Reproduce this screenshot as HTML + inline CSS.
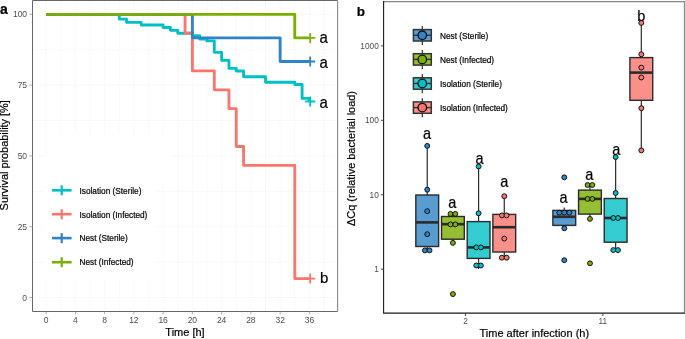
<!DOCTYPE html><html><head><meta charset="utf-8"><style>html,body{margin:0;padding:0;background:#fff;}svg{display:block;font-family:"Liberation Sans",sans-serif;will-change:transform;}text{stroke-width:0.2px;}</style></head><body>
<svg width="685" height="339" viewBox="0 0 685 339">
<rect x="0" y="0" width="685" height="339" fill="#fff"/>
<path d="M46.10 0.5V311.5M60.73 0.5V311.5M75.36 0.5V311.5M89.98 0.5V311.5M104.61 0.5V311.5M119.24 0.5V311.5M133.87 0.5V311.5M148.50 0.5V311.5M163.12 0.5V311.5M177.75 0.5V311.5M192.38 0.5V311.5M207.01 0.5V311.5M221.64 0.5V311.5M236.26 0.5V311.5M250.89 0.5V311.5M265.52 0.5V311.5M280.15 0.5V311.5M294.78 0.5V311.5M309.40 0.5V311.5M324.03 0.5V311.5M32.5 297.50H337.6M32.5 262.10H337.6M32.5 226.70H337.6M32.5 191.30H337.6M32.5 155.90H337.6M32.5 120.50H337.6M32.5 85.10H337.6M32.5 49.70H337.6M32.5 14.30H337.6" stroke="#f6f6f6" stroke-width="0.8" fill="none"/>
<rect x="46.6" y="134.4" width="123.4" height="49.8" fill="#fff"/>
<rect x="44" y="156.6" width="110.5" height="122.9" fill="#fff"/>
<path d="M46.10 14.30H119.24V19.10H126.55V22.40H141.18V25.00H163.12V27.50H170.44V30.30H177.75V33.20H192.38V35.60H199.69V39.00H207.01V40.90H214.32V52.30H221.64V60.40H228.95V68.40H236.26V71.00H243.58V76.70H265.52V82.20H294.78V84.50H302.09V98.40H309.40V101.50" stroke="#00BFC4" stroke-width="2.85" fill="none" stroke-linejoin="round" stroke-linecap="butt"/>
<path d="M305.20 101.50H315.20M310.20 96.50V106.50" stroke="#00BFC4" stroke-width="1.8" fill="none"/>
<path d="M46.10 14.30H185.07V33.19H192.38V70.94H214.32V89.83H228.95V108.69H236.26V146.47H243.58V165.33H294.78V278.61H309.40V278.61" stroke="#F8766D" stroke-width="2.85" fill="none" stroke-linejoin="round" stroke-linecap="butt"/>
<path d="M305.20 278.61H315.20M310.20 273.61V283.61" stroke="#F8766D" stroke-width="1.8" fill="none"/>
<path d="M46.10 14.30H192.38V37.89H280.15V61.51H309.40V61.51" stroke="#3083C4" stroke-width="2.85" fill="none" stroke-linejoin="round" stroke-linecap="butt"/>
<path d="M305.20 61.51H315.20M310.20 56.51V66.51" stroke="#3083C4" stroke-width="1.8" fill="none"/>
<path d="M46.10 14.30H294.78V37.89H309.40V37.89" stroke="#7CAE00" stroke-width="2.85" fill="none" stroke-linejoin="round" stroke-linecap="butt"/>
<path d="M305.20 37.89H315.20M310.20 32.89V42.89" stroke="#7CAE00" stroke-width="1.8" fill="none"/>
<text transform="translate(319.6 42.7) scale(1 1.1)" x="0" y="0" font-size="15" fill="#000" stroke="#000">a</text>
<text transform="translate(319.6 67.8) scale(1 1.1)" x="0" y="0" font-size="15" fill="#000" stroke="#000">a</text>
<text transform="translate(319.6 108.3) scale(1 1.1)" x="0" y="0" font-size="15" fill="#000" stroke="#000">a</text>
<text transform="translate(320.1 283.2) scale(1 1.0)" x="0" y="0" font-size="15" fill="#000" stroke="#000">b</text>
<path d="M32.5 311.5V0.5H337.6" stroke="#666" stroke-width="1" fill="none"/>
<path d="M337.6 0.5V311.5" stroke="#888" stroke-width="1.1" fill="none"/>
<path d="M32.5 311.5H337.6" stroke="#666" stroke-width="1" fill="none"/>
<path d="M29.3 297.50H32.5" stroke="#999" stroke-width="0.8"/>
<text x="27.1" y="300.55" font-size="8.5" fill="#4d4d4d" text-anchor="end">0</text>
<path d="M29.3 226.70H32.5" stroke="#999" stroke-width="0.8"/>
<text x="27.1" y="229.75" font-size="8.5" fill="#4d4d4d" text-anchor="end">25</text>
<path d="M29.3 155.90H32.5" stroke="#999" stroke-width="0.8"/>
<text x="27.1" y="158.95" font-size="8.5" fill="#4d4d4d" text-anchor="end">50</text>
<path d="M29.3 85.10H32.5" stroke="#999" stroke-width="0.8"/>
<text x="27.1" y="88.15" font-size="8.5" fill="#4d4d4d" text-anchor="end">75</text>
<path d="M29.3 14.30H32.5" stroke="#999" stroke-width="0.8"/>
<text x="27.1" y="17.35" font-size="8.5" fill="#4d4d4d" text-anchor="end">100</text>
<path d="M46.10 311.5V314.4" stroke="#999" stroke-width="0.8"/>
<text x="46.10" y="323.3" font-size="8.5" fill="#4d4d4d" text-anchor="middle">0</text>
<path d="M75.36 311.5V314.4" stroke="#999" stroke-width="0.8"/>
<text x="75.36" y="323.3" font-size="8.5" fill="#4d4d4d" text-anchor="middle">4</text>
<path d="M104.61 311.5V314.4" stroke="#999" stroke-width="0.8"/>
<text x="104.61" y="323.3" font-size="8.5" fill="#4d4d4d" text-anchor="middle">8</text>
<path d="M133.87 311.5V314.4" stroke="#999" stroke-width="0.8"/>
<text x="133.87" y="323.3" font-size="8.5" fill="#4d4d4d" text-anchor="middle">12</text>
<path d="M163.12 311.5V314.4" stroke="#999" stroke-width="0.8"/>
<text x="163.12" y="323.3" font-size="8.5" fill="#4d4d4d" text-anchor="middle">16</text>
<path d="M192.38 311.5V314.4" stroke="#999" stroke-width="0.8"/>
<text x="192.38" y="323.3" font-size="8.5" fill="#4d4d4d" text-anchor="middle">20</text>
<path d="M221.64 311.5V314.4" stroke="#999" stroke-width="0.8"/>
<text x="221.64" y="323.3" font-size="8.5" fill="#4d4d4d" text-anchor="middle">24</text>
<path d="M250.89 311.5V314.4" stroke="#999" stroke-width="0.8"/>
<text x="250.89" y="323.3" font-size="8.5" fill="#4d4d4d" text-anchor="middle">28</text>
<path d="M280.15 311.5V314.4" stroke="#999" stroke-width="0.8"/>
<text x="280.15" y="323.3" font-size="8.5" fill="#4d4d4d" text-anchor="middle">32</text>
<path d="M309.40 311.5V314.4" stroke="#999" stroke-width="0.8"/>
<text x="309.40" y="323.3" font-size="8.5" fill="#4d4d4d" text-anchor="middle">36</text>
<text transform="translate(185 335.7) scale(1 1.06)" x="0" y="0" font-size="11" fill="#000" stroke="#000" text-anchor="middle">Time [h]</text>
<text transform="translate(8.3 155.3) rotate(-90)" x="0" y="0" font-size="10.9" fill="#000" stroke="#000" text-anchor="middle">Survival probability [%]</text>
<text x="0" y="13.8" font-size="14" font-weight="bold" fill="#000" stroke="#000">a</text>
<path d="M51.9 190.3H71.6" stroke="#00BFC4" stroke-width="2.6"/>
<path d="M61.7 185.3V195.3" stroke="#00BFC4" stroke-width="2.2"/>
<text x="79.5" y="194" font-size="8.25" fill="#000" stroke="#000">Isolation (Sterile)</text>
<path d="M51.9 214.2H71.6" stroke="#F8766D" stroke-width="2.6"/>
<path d="M61.7 209.2V219.2" stroke="#F8766D" stroke-width="2.2"/>
<text x="79.5" y="218" font-size="8.25" fill="#000" stroke="#000">Isolation (Infected)</text>
<path d="M51.9 238.1H71.6" stroke="#3083C4" stroke-width="2.6"/>
<path d="M61.7 233.1V243.1" stroke="#3083C4" stroke-width="2.2"/>
<text x="79.5" y="241" font-size="8.25" fill="#000" stroke="#000">Nest (Sterile)</text>
<path d="M51.9 262.2H71.6" stroke="#7CAE00" stroke-width="2.6"/>
<path d="M61.7 257.2V267.2" stroke="#7CAE00" stroke-width="2.2"/>
<text x="79.5" y="265" font-size="8.25" fill="#000" stroke="#000">Nest (Infected)</text>
<path d="M383.6 1.6H684.4V313.1" stroke="#888" stroke-width="1.1" fill="none"/>
<path d="M422.3 25.9V45.0" stroke="#333" stroke-width="1.2"/>
<rect x="413.4" y="29.60" width="17.9" height="11.4" fill="#3083C4" fill-opacity="0.8" stroke="#333" stroke-width="1.5"/>
<path d="M413.4 35.3H431.3" stroke="#333" stroke-width="1.4"/>
<circle cx="422.3" cy="35.3" r="4.3" fill="#3083C4" stroke="#111" stroke-width="1.3"/>
<text x="440" y="39" font-size="8.25" fill="#000" stroke="#000">Nest (Sterile)</text>
<path d="M422.3 50.0V69.1" stroke="#333" stroke-width="1.2"/>
<rect x="413.4" y="53.70" width="17.9" height="11.4" fill="#7CAE00" fill-opacity="0.8" stroke="#333" stroke-width="1.5"/>
<path d="M413.4 59.4H431.3" stroke="#333" stroke-width="1.4"/>
<circle cx="422.3" cy="59.4" r="4.3" fill="#7CAE00" stroke="#111" stroke-width="1.3"/>
<text x="440" y="63" font-size="8.25" fill="#000" stroke="#000">Nest (Infected)</text>
<path d="M422.3 74.1V93.2" stroke="#333" stroke-width="1.2"/>
<rect x="413.4" y="77.80" width="17.9" height="11.4" fill="#00BFC4" fill-opacity="0.8" stroke="#333" stroke-width="1.5"/>
<path d="M413.4 83.5H431.3" stroke="#333" stroke-width="1.4"/>
<circle cx="422.3" cy="83.5" r="4.3" fill="#00BFC4" stroke="#111" stroke-width="1.3"/>
<text x="440" y="87" font-size="8.25" fill="#000" stroke="#000">Isolation (Sterile)</text>
<path d="M422.3 98.19999999999999V117.3" stroke="#333" stroke-width="1.2"/>
<rect x="413.4" y="101.90" width="17.9" height="11.4" fill="#F8766D" fill-opacity="0.8" stroke="#333" stroke-width="1.5"/>
<path d="M413.4 107.6H431.3" stroke="#333" stroke-width="1.4"/>
<circle cx="422.3" cy="107.6" r="4.3" fill="#F8766D" stroke="#111" stroke-width="1.3"/>
<text x="440" y="111" font-size="8.25" fill="#000" stroke="#000">Isolation (Infected)</text>
<path d="M427.23 145.90V195.00M427.23 246.50V250.40" stroke="#2b2b2b" stroke-width="1.2"/>
<rect x="415.83" y="195.00" width="22.80" height="51.50" fill="#3083C4" fill-opacity="0.8" stroke="#2b2b2b" stroke-width="1.4"/>
<path d="M415.83 222.40H438.63" stroke="#2b2b2b" stroke-width="2.6"/>
<path d="M452.91 213.90V216.50M452.91 239.20V242.90" stroke="#2b2b2b" stroke-width="1.2"/>
<rect x="441.51" y="216.50" width="22.80" height="22.70" fill="#7CAE00" fill-opacity="0.8" stroke="#2b2b2b" stroke-width="1.4"/>
<path d="M441.51 224.20H464.31" stroke="#2b2b2b" stroke-width="2.6"/>
<path d="M478.59 166.50V221.60M478.59 258.40V268.90" stroke="#2b2b2b" stroke-width="1.2"/>
<rect x="467.19" y="221.60" width="22.80" height="36.80" fill="#00BFC4" fill-opacity="0.8" stroke="#2b2b2b" stroke-width="1.4"/>
<path d="M467.19 247.40H489.99" stroke="#2b2b2b" stroke-width="2.6"/>
<path d="M504.27 196.20V214.40M504.27 252.00V257.70" stroke="#2b2b2b" stroke-width="1.2"/>
<rect x="492.87" y="214.40" width="22.80" height="37.60" fill="#F8766D" fill-opacity="0.8" stroke="#2b2b2b" stroke-width="1.4"/>
<path d="M492.87 227.20H515.67" stroke="#2b2b2b" stroke-width="2.6"/>
<path d="M564.28 207.50V210.40M564.28 225.40V228.30" stroke="#2b2b2b" stroke-width="1.2"/>
<rect x="552.88" y="210.40" width="22.80" height="15.00" fill="#3083C4" fill-opacity="0.8" stroke="#2b2b2b" stroke-width="1.4"/>
<path d="M552.88 216.80H575.68" stroke="#2b2b2b" stroke-width="2.6"/>
<path d="M589.96 185.00V190.10M589.96 214.10V218.90" stroke="#2b2b2b" stroke-width="1.2"/>
<rect x="578.56" y="190.10" width="22.80" height="24.00" fill="#7CAE00" fill-opacity="0.8" stroke="#2b2b2b" stroke-width="1.4"/>
<path d="M578.56 198.90H601.36" stroke="#2b2b2b" stroke-width="2.6"/>
<path d="M615.64 157.10V198.50M615.64 242.20V250.10" stroke="#2b2b2b" stroke-width="1.2"/>
<rect x="604.24" y="198.50" width="22.80" height="43.70" fill="#00BFC4" fill-opacity="0.8" stroke="#2b2b2b" stroke-width="1.4"/>
<path d="M604.24 218.00H627.04" stroke="#2b2b2b" stroke-width="2.6"/>
<path d="M641.32 22.90V57.60M641.32 100.30V150.40" stroke="#2b2b2b" stroke-width="1.2"/>
<rect x="629.92" y="57.60" width="22.80" height="42.70" fill="#F8766D" fill-opacity="0.8" stroke="#2b2b2b" stroke-width="1.4"/>
<path d="M629.92 72.60H652.72" stroke="#2b2b2b" stroke-width="2.6"/>
<circle cx="427.23" cy="145.90" r="2.45" fill="#3083C4" stroke="#111" stroke-width="1.0"/>
<circle cx="427.23" cy="189.70" r="2.45" fill="#3083C4" stroke="#111" stroke-width="1.0"/>
<circle cx="427.23" cy="211.20" r="2.45" fill="#3083C4" stroke="#111" stroke-width="1.0"/>
<circle cx="427.23" cy="234.20" r="2.45" fill="#3083C4" stroke="#111" stroke-width="1.0"/>
<circle cx="424.93" cy="250.40" r="2.45" fill="#3083C4" stroke="#111" stroke-width="1.0"/>
<circle cx="429.53" cy="250.40" r="2.45" fill="#3083C4" stroke="#111" stroke-width="1.0"/>
<circle cx="450.51" cy="213.90" r="2.45" fill="#7CAE00" stroke="#111" stroke-width="1.0"/>
<circle cx="455.31" cy="213.90" r="2.45" fill="#7CAE00" stroke="#111" stroke-width="1.0"/>
<circle cx="450.51" cy="224.40" r="2.45" fill="#7CAE00" stroke="#111" stroke-width="1.0"/>
<circle cx="455.31" cy="224.40" r="2.45" fill="#7CAE00" stroke="#111" stroke-width="1.0"/>
<circle cx="452.91" cy="242.90" r="2.45" fill="#7CAE00" stroke="#111" stroke-width="1.0"/>
<circle cx="452.91" cy="294.10" r="2.45" fill="#7CAE00" stroke="#111" stroke-width="1.0"/>
<circle cx="478.59" cy="166.50" r="2.45" fill="#00BFC4" stroke="#111" stroke-width="1.0"/>
<circle cx="478.59" cy="213.30" r="2.45" fill="#00BFC4" stroke="#111" stroke-width="1.0"/>
<circle cx="476.29" cy="247.40" r="2.45" fill="#00BFC4" stroke="#111" stroke-width="1.0"/>
<circle cx="480.89" cy="247.40" r="2.45" fill="#00BFC4" stroke="#111" stroke-width="1.0"/>
<circle cx="476.29" cy="265.50" r="2.45" fill="#00BFC4" stroke="#111" stroke-width="1.0"/>
<circle cx="480.89" cy="265.50" r="2.45" fill="#00BFC4" stroke="#111" stroke-width="1.0"/>
<circle cx="504.27" cy="196.20" r="2.45" fill="#F8766D" stroke="#111" stroke-width="1.0"/>
<circle cx="501.97" cy="215.40" r="2.45" fill="#F8766D" stroke="#111" stroke-width="1.0"/>
<circle cx="506.57" cy="215.40" r="2.45" fill="#F8766D" stroke="#111" stroke-width="1.0"/>
<circle cx="504.27" cy="238.60" r="2.45" fill="#F8766D" stroke="#111" stroke-width="1.0"/>
<circle cx="501.87" cy="257.70" r="2.45" fill="#F8766D" stroke="#111" stroke-width="1.0"/>
<circle cx="506.67" cy="257.70" r="2.45" fill="#F8766D" stroke="#111" stroke-width="1.0"/>
<circle cx="564.28" cy="177.30" r="2.45" fill="#3083C4" stroke="#111" stroke-width="1.0"/>
<circle cx="559.28" cy="212.70" r="2.45" fill="#3083C4" stroke="#111" stroke-width="1.0"/>
<circle cx="564.28" cy="212.70" r="2.45" fill="#3083C4" stroke="#111" stroke-width="1.0"/>
<circle cx="569.28" cy="212.70" r="2.45" fill="#3083C4" stroke="#111" stroke-width="1.0"/>
<circle cx="564.28" cy="228.30" r="2.45" fill="#3083C4" stroke="#111" stroke-width="1.0"/>
<circle cx="564.28" cy="260.20" r="2.45" fill="#3083C4" stroke="#111" stroke-width="1.0"/>
<circle cx="587.61" cy="185.00" r="2.45" fill="#7CAE00" stroke="#111" stroke-width="1.0"/>
<circle cx="592.31" cy="185.00" r="2.45" fill="#7CAE00" stroke="#111" stroke-width="1.0"/>
<circle cx="587.61" cy="198.90" r="2.45" fill="#7CAE00" stroke="#111" stroke-width="1.0"/>
<circle cx="592.31" cy="198.90" r="2.45" fill="#7CAE00" stroke="#111" stroke-width="1.0"/>
<circle cx="589.96" cy="218.90" r="2.45" fill="#7CAE00" stroke="#111" stroke-width="1.0"/>
<circle cx="589.96" cy="263.30" r="2.45" fill="#7CAE00" stroke="#111" stroke-width="1.0"/>
<circle cx="615.64" cy="157.10" r="2.45" fill="#00BFC4" stroke="#111" stroke-width="1.0"/>
<circle cx="615.64" cy="193.00" r="2.45" fill="#00BFC4" stroke="#111" stroke-width="1.0"/>
<circle cx="613.29" cy="218.00" r="2.45" fill="#00BFC4" stroke="#111" stroke-width="1.0"/>
<circle cx="617.99" cy="218.00" r="2.45" fill="#00BFC4" stroke="#111" stroke-width="1.0"/>
<circle cx="613.29" cy="250.10" r="2.45" fill="#00BFC4" stroke="#111" stroke-width="1.0"/>
<circle cx="617.99" cy="250.10" r="2.45" fill="#00BFC4" stroke="#111" stroke-width="1.0"/>
<circle cx="641.32" cy="22.90" r="2.45" fill="#F8766D" stroke="#111" stroke-width="1.0"/>
<circle cx="641.32" cy="54.30" r="2.45" fill="#F8766D" stroke="#111" stroke-width="1.0"/>
<circle cx="641.32" cy="67.60" r="2.45" fill="#F8766D" stroke="#111" stroke-width="1.0"/>
<circle cx="641.32" cy="77.50" r="2.45" fill="#F8766D" stroke="#111" stroke-width="1.0"/>
<circle cx="641.32" cy="108.20" r="2.45" fill="#F8766D" stroke="#111" stroke-width="1.0"/>
<circle cx="641.32" cy="150.40" r="2.45" fill="#F8766D" stroke="#111" stroke-width="1.0"/>
<text transform="translate(427.1 139.40) scale(1 1.09)" x="0" y="0" font-size="14.5" fill="#000" stroke="#000" text-anchor="middle">a</text>
<text transform="translate(452.3 207.50) scale(1 1.09)" x="0" y="0" font-size="14.5" fill="#000" stroke="#000" text-anchor="middle">a</text>
<text transform="translate(479.5 164.10) scale(1 1.09)" x="0" y="0" font-size="14.5" fill="#000" stroke="#000" text-anchor="middle">a</text>
<text transform="translate(504.2 187.10) scale(1 1.09)" x="0" y="0" font-size="14.5" fill="#000" stroke="#000" text-anchor="middle">a</text>
<text transform="translate(563.6 203.30) scale(1 1.09)" x="0" y="0" font-size="14.5" fill="#000" stroke="#000" text-anchor="middle">a</text>
<text transform="translate(589.2 180.30) scale(1 1.09)" x="0" y="0" font-size="14.5" fill="#000" stroke="#000" text-anchor="middle">a</text>
<text transform="translate(616.2 154.80) scale(1 1.09)" x="0" y="0" font-size="14.5" fill="#000" stroke="#000" text-anchor="middle">a</text>
<text transform="translate(641.2 20.60) scale(1 1.0)" x="0" y="0" font-size="14.5" fill="#000" stroke="#000" text-anchor="middle">b</text>
<path d="M383.6 1.1V313.1H684.9" stroke="#1a1a1a" stroke-width="1.1" fill="none"/>
<path d="M380.9 269.20H383.6" stroke="#333" stroke-width="0.9"/>
<text x="378.8" y="272.20" font-size="8.3" fill="#4d4d4d" text-anchor="end">1</text>
<path d="M380.9 194.75H383.6" stroke="#333" stroke-width="0.9"/>
<text x="378.8" y="197.75" font-size="8.3" fill="#4d4d4d" text-anchor="end">10</text>
<path d="M380.9 120.30H383.6" stroke="#333" stroke-width="0.9"/>
<text x="378.8" y="123.30" font-size="8.3" fill="#4d4d4d" text-anchor="end">100</text>
<path d="M380.9 45.85H383.6" stroke="#333" stroke-width="0.9"/>
<text x="378.8" y="48.85" font-size="8.3" fill="#4d4d4d" text-anchor="end">1000</text>
<path d="M465.5 313.1V316" stroke="#333" stroke-width="0.9"/>
<text x="465.5" y="324.0" font-size="8.3" fill="#4d4d4d" text-anchor="middle">2</text>
<path d="M602.9 313.1V316" stroke="#333" stroke-width="0.9"/>
<text x="602.9" y="324.0" font-size="8.3" fill="#4d4d4d" text-anchor="middle">11</text>
<text transform="translate(534.3 337) scale(1 1.06)" x="0" y="0" font-size="11" fill="#000" stroke="#000" text-anchor="middle">Time after infection (h)</text>
<text transform="translate(354.8 158.5) rotate(-90)" x="0" y="0" font-size="10.95" fill="#000" stroke="#000" text-anchor="middle">ΔCq (relative bacterial load)</text>
<text x="356.8" y="15.9" font-size="13.5" font-weight="bold" fill="#000" stroke="#000">b</text>
</svg></body></html>
